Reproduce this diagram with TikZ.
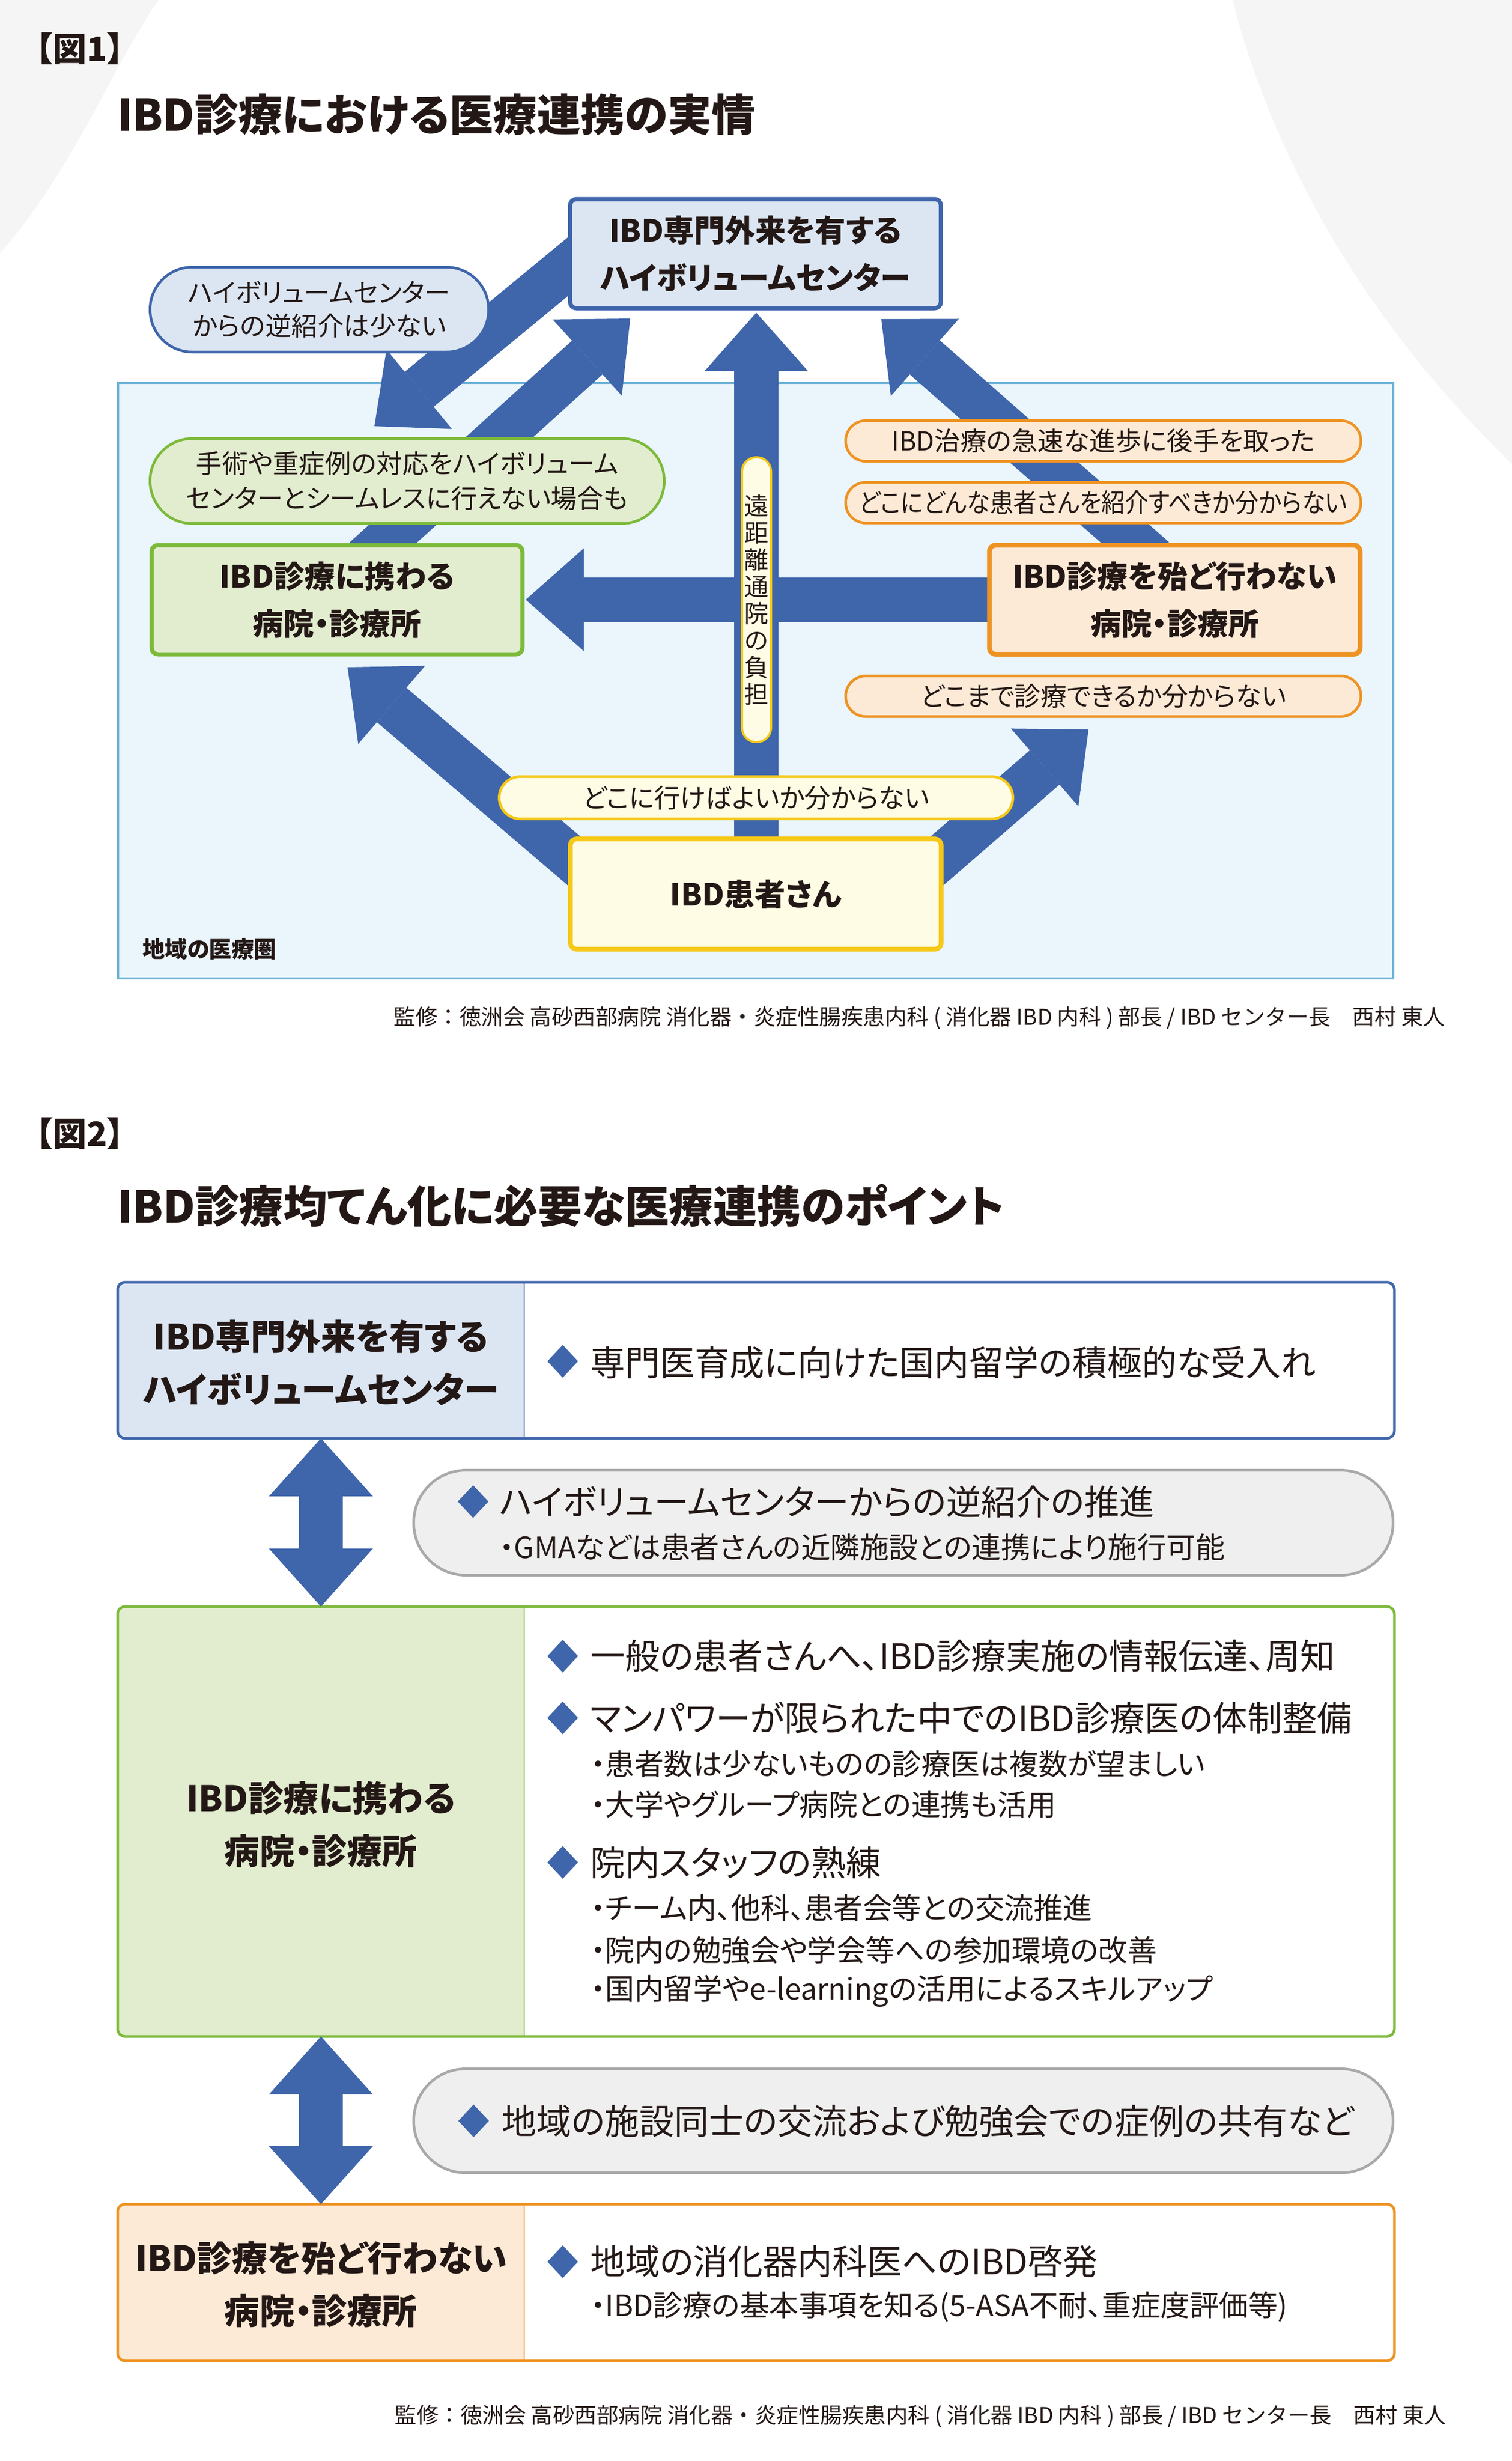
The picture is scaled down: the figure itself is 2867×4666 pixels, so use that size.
\documentclass[tikz,border=0pt]{standalone}
\usepackage{fontspec}
\setmainfont{Noto Sans CJK JP}[RawFeature=+palt]
\newfontfamily\jpfull{Noto Sans CJK JP}
\usetikzlibrary{arrows.meta,shapes.geometric}

\definecolor{ablue}{HTML}{3F65AB}
\definecolor{lblue}{HTML}{DCE6F3}
\definecolor{regfill}{HTML}{EAF5FC}
\definecolor{regdraw}{HTML}{6DB3D8}
\definecolor{lgreen}{HTML}{E2EDCF}
\definecolor{mgreen}{HTML}{7CBA3A}
\definecolor{lorange}{HTML}{FCEAD6}
\definecolor{morange}{HTML}{EE9323}
\definecolor{lyellow}{HTML}{FEFCE4}
\definecolor{myellow}{HTML}{F6C818}
\definecolor{lgray}{HTML}{EFEFEF}
\definecolor{mgray}{HTML}{A9A9A9}
\definecolor{txt}{HTML}{231815}
\definecolor{bgg}{HTML}{F5F5F5}

\newcommand{\myfs}[2]{\fontsize{#1pt}{#2pt}\selectfont}

\tikzset{
  base/.style={inner sep=0pt, outer sep=0pt, text=txt},
  bigbox/.style={base, rounded corners=12pt, line width=8pt, minimum width=703pt,
    minimum height=207pt, align=center, font=\myfs{58}{90}\bfseries},
  bubble/.style={base, line width=5pt, align=center},
  lbl/.style={base, anchor=west},
  fat/.style={draw=ablue, line width=86pt,
    -{Triangle[length=110pt,width=195pt,line width=0pt]}},
  dbl/.style={draw=ablue, line width=83pt,
    {Triangle[length=110pt,width=197pt,line width=0pt]}-{Triangle[length=110pt,width=197pt,line width=0pt]}},
  geom/.style={inner sep=0pt, outer sep=0pt, minimum height=#1},
  celltxt/.style={base, align=center, font=\myfs{66.5}{100}\bfseries},
  bul/.style={diamond, fill=ablue, minimum width=58pt, minimum height=62pt, inner sep=0pt, outer sep=0pt},
  mainln/.style={base, anchor=west, font=\myfs{66}{80}},
  subln/.style={base, anchor=west, font=\myfs{55.5}{64}},
  credit/.style={base, anchor=east, font=\jpfull\myfs{41.5}{48}},
}

\begin{document}
\begin{tikzpicture}[x=1pt,y=-1pt]
\useasboundingbox (0,0) rectangle (2867,4666);
\fill[white] (0,0) rectangle (2867,4666);
% faint background swooshes
\fill[bgg] (0,0) -- (300,0) .. controls (200,150) and (140,320) .. (0,480) -- cycle;
\fill[bgg] (2337,0) .. controls (2420,320) and (2600,620) .. (2867,880) -- (2867,0) -- cycle;

% ================= Figure 1 =================
\node[lbl, font=\myfs{64}{70}\bfseries] (f1lab) at (68,92) {【図1】};
\node[lbl, font=\myfs{83}{90}\bfseries] (f1title) at (222,217) {IBD診療における医療連携の実情};

\node[base, draw=regdraw, fill=regfill, line width=4pt, minimum width=2418pt, minimum height=1129pt] (region) at (1433,1290.5) {};
\node[base, anchor=west, font=\myfs{42.5}{48}\bfseries] (reglab) at (270,1799) {地域の医療圏};

% arrow end points
\coordinate (aAt) at (1160,437);  \coordinate (aAh) at (710,808);
\coordinate (aBt) at (692,1060);  \coordinate (aBh) at (1195,604);
\coordinate (aDt) at (2188,1060); \coordinate (aDh) at (1671,605);
\coordinate (aEt) at (1120,1659); \coordinate (aEh) at (659,1265);
\coordinate (aFt) at (1740,1664); \coordinate (aFh) at (2064,1383);
\coordinate (aCt) at (1434,1640); \coordinate (aCh) at (1434,593);
\coordinate (aGt) at (1950,1137); \coordinate (aGh) at (997,1137);

\draw[fat] (aAt) -- (aAh);
\draw[fat] (aBt) -- (aBh);
\draw[fat] (aDt) -- (aDh);
\draw[fat] (aEt) -- (aEh);
\draw[fat] (aFt) -- (aFh);
\draw[fat, line width=84pt] (aCt) -- (aCh);
\draw[fat, line width=85pt] (aGt) -- (aGh);

% bubbles
\node[bubble, draw=ablue, fill=lblue, rounded corners=80pt, minimum width=642pt, minimum height=161pt, font=\myfs{49.5}{63}] (bub1) at (605.5,587) {ハイボリュームセンター\\からの逆紹介は少ない};
\node[bubble, draw=mgreen, fill=lgreen, rounded corners=80pt, minimum width=975pt, minimum height=161pt, font=\myfs{49.5}{66}] (bub2) at (772,912) {手術や重症例の対応をハイボリューム\\センターとシームレスに行えない場合も};
\node[bubble, draw=morange, fill=lorange, rounded corners=38pt, minimum width=977pt, minimum height=77pt, font=\myfs{49.5}{60}] (bub3) at (2092,836) {IBD治療の急速な進歩に後手を取った};
\node[bubble, draw=morange, fill=lorange, rounded corners=38pt, minimum width=977pt, minimum height=77pt, font=\myfs{49.5}{60}] (bub4) at (2092,953) {\scalebox{0.9}[1]{どこにどんな患者さんを紹介すべきか分からない}};
\node[bubble, draw=morange, fill=lorange, rounded corners=38pt, minimum width=977pt, minimum height=77pt, font=\myfs{49.5}{60}] (bub5) at (2092,1320) {どこまで診療できるか分からない};
\node[bubble, draw=myellow, fill=lyellow, rounded corners=40pt, minimum width=974pt, minimum height=80pt, font=\myfs{49.5}{60}] (bub6) at (1433.5,1512.5) {どこに行けばよいか分からない};
\node[bubble, draw=myellow, fill=lyellow, line width=4pt, rounded corners=27pt, minimum width=55pt, minimum height=540pt, font=\myfs{46}{51}] (vpill) at (1434.5,1137) {遠\\距\\離\\通\\院\\の\\負\\担};

% main boxes
\node[bigbox, draw=ablue, fill=lblue] (hvc) at (1432.5,481) {IBD専門外来を有する\\ハイボリュームセンター};
\node[bigbox, draw=mgreen, fill=lgreen] (hosp) at (639,1137) {IBD診療に携わる\\病院・診療所};
\node[bigbox, draw=morange, fill=lorange, line width=9pt] (nohosp) at (2227.5,1137) {IBD診療を殆ど行わない\\病院・診療所};
\node[bigbox, draw=myellow, fill=lyellow, line width=9pt, minimum height=209pt] (patient) at (1433,1695) {IBD患者さん};

\node[credit] (cred1) at (2740,1930) {監修：徳洲会 高砂西部病院 消化器・炎症性腸疾患内科 ( 消化器 IBD 内科 ) 部長 / IBD センター長　西村 東人};

% ================= Figure 2 =================
\node[lbl, font=\myfs{64}{70}\bfseries] (f2lab) at (68,2149) {【図2】};
\node[lbl, font=\myfs{83.5}{90}\bfseries] (f2title) at (222,2286) {IBD診療均てん化に必要な医療連携のポイント};

% row geometry
\node[geom=296pt, minimum width=2421pt] (row1) at (1433.5,2579) {};
\node[geom=296pt, minimum width=771pt] (row1L) at (608.5,2579) {};
\node[geom=815pt, minimum width=2421pt] (row2) at (1433.5,3453.5) {};
\node[geom=815pt, minimum width=771pt] (row2L) at (608.5,3453.5) {};
\node[geom=297pt, minimum width=2421pt] (row3) at (1433.5,4327.5) {};
\node[geom=297pt, minimum width=771pt] (row3L) at (608.5,4327.5) {};

\begin{scope}
  \clip[rounded corners=14pt] (row1.north west) rectangle (row1.south east);
  \fill[lblue] (row1L.north west) rectangle (row1L.south east);
\end{scope}
\begin{scope}
  \clip[rounded corners=14pt] (row2.north west) rectangle (row2.south east);
  \fill[lgreen] (row2L.north west) rectangle (row2L.south east);
\end{scope}
\begin{scope}
  \clip[rounded corners=14pt] (row3.north west) rectangle (row3.south east);
  \fill[lorange] (row3L.north west) rectangle (row3L.south east);
\end{scope}
\draw[ablue, line width=2.5pt] (row1L.north east) -- (row1L.south east);
\draw[mgreen, line width=2.5pt] (row2L.north east) -- (row2L.south east);
\draw[morange, line width=2.5pt] (row3L.north east) -- (row3L.south east);
\draw[ablue, line width=5pt, rounded corners=14pt] (row1.north west) rectangle (row1.south east);
\draw[mgreen, line width=5pt, rounded corners=14pt] (row2.north west) rectangle (row2.south east);
\draw[morange, line width=5pt, rounded corners=14pt] (row3.north west) rectangle (row3.south east);

\node[celltxt] (r1t) at (608.5,2584) {IBD専門外来を有する\\ハイボリュームセンター};
\node[celltxt] (r2t) at (608.5,3459) {IBD診療に携わる\\病院・診療所};
\node[celltxt] (r3t) at (608.5,4331) {IBD診療を殆ど行わない\\病院・診療所};

% double arrows
\draw[dbl] (row1L.south) -- (row2L.north);
\draw[dbl] (row2L.south) -- (row3L.north);

% gray pills
\node[bubble, draw=mgray, fill=lgray, rounded corners=99pt, minimum width=1857pt, minimum height=199pt] (gp1) at (1713,2887) {};
\node[bubble, draw=mgray, fill=lgray, rounded corners=98pt, minimum width=1857pt, minimum height=197pt] (gp2) at (1713,4021) {};

% bullets row 1
\node[bul] (d1) at (1067,2581) {};
\node[mainln] (t1) at (1119,2583) {専門医育成に向けた国内留学の積極的な受入れ};
% pill 1
\node[bul] (d2) at (897,2847) {};
\node[mainln] (t2) at (947,2847) {ハイボリュームセンターからの逆紹介の推進};
\node[subln] (t2s) at (947,2933) {・GMAなどは患者さんの近隣施設との連携により施行可能};
% row 2
\node[bul] (d3) at (1067,3140) {};
\node[mainln] (t3) at (1119,3140) {一般の患者さんへ、IBD診療実施の情報伝達、周知};
\node[bul] (d4) at (1067,3257) {};
\node[mainln] (t4) at (1119,3257) {マンパワーが限られた中でのIBD診療医の体制整備};
\node[subln] (t4a) at (1120,3344) {・患者数は少ないものの診療医は複数が望ましい};
\node[subln] (t4b) at (1120,3421) {・大学やグループ病院との連携も活用};
\node[bul] (d5) at (1067,3531) {};
\node[mainln] (t5) at (1119,3531) {院内スタッフの熟練};
\node[subln] (t5a) at (1120,3617) {・チーム内、他科、患者会等との交流推進};
\node[subln] (t5b) at (1120,3697) {・院内の勉強会や学会等への参加環境の改善};
\node[subln] (t5c) at (1120,3775) {・国内留学やe-learningの活用によるスキルアップ};
% pill 2
\node[bul] (d6) at (898,4021) {};
\node[mainln] (t6) at (951,4022) {地域の施設同士の交流および勉強会での症例の共有など};
% row 3
\node[bul] (d7) at (1067,4288) {};
\node[mainln] (t7) at (1119,4287) {地域の消化器内科医へのIBD啓発};
\node[subln] (t7a) at (1120,4373) {・IBD診療の基本事項を知る(5-ASA不耐、重症度評価等)};

\node[credit] (cred2) at (2742,4581) {監修：徳洲会 高砂西部病院 消化器・炎症性腸疾患内科 ( 消化器 IBD 内科 ) 部長 / IBD センター長　西村 東人};
\end{tikzpicture}
\end{document}
